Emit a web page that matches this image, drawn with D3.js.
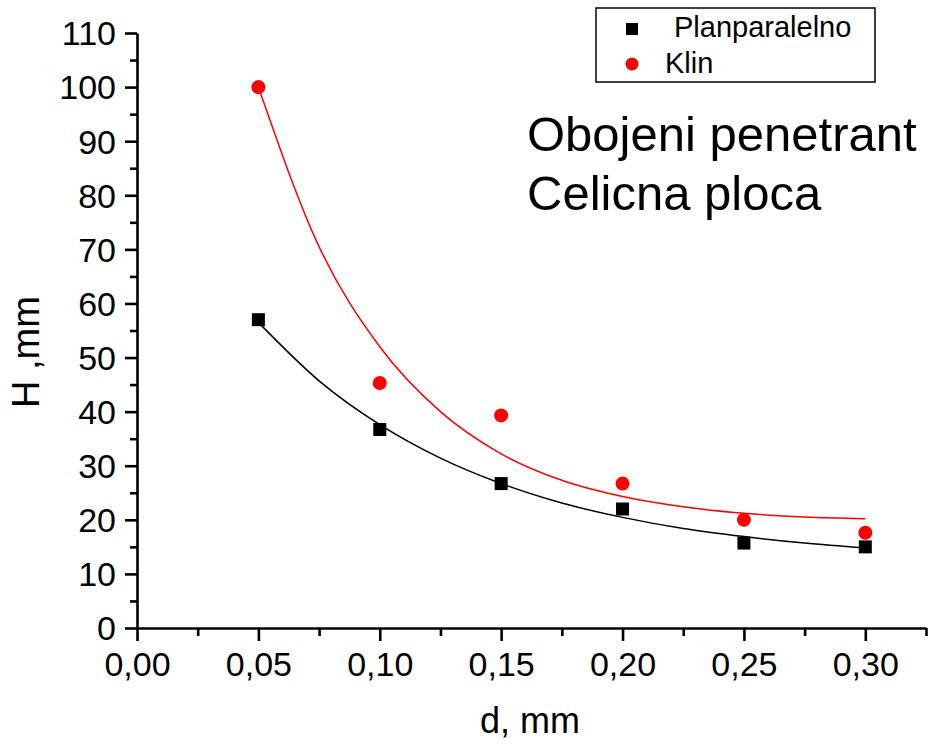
<!DOCTYPE html>
<html>
<head>
<meta charset="utf-8">
<script src="https://cdn.jsdelivr.net/npm/d3@7"></script>
<style>
  html, body { margin: 0; padding: 0; background: #fff; }
  svg { display: block; font-family: "Liberation Sans", Arial, sans-serif; }
</style>
</head>
<body>
<svg id="chart" width="928" height="744"></svg>
<script>
// ---- data ----
const dValues = [0.05, 0.10, 0.15, 0.20, 0.25, 0.30];
const planparalelno = [57, 36.7, 26.7, 22, 15.7, 15];
const klin = [100, 45.3, 39.3, 26.7, 20, 17.6];

// fitted curves
const fitD = [0.05, 0.075, 0.10, 0.125, 0.15, 0.175, 0.20, 0.225, 0.25, 0.275, 0.30];
const fitPlan = [56.5, 45.7, 37.6, 31.4, 26.7, 23.1, 20.45, 18.4, 16.9, 15.7, 14.8];
const fitKlin = [100, 70.5, 52.0, 40.0, 32.2, 27.3, 24.3, 22.4, 21.2, 20.5, 20.2];

const xTicks = [0, 0.05, 0.10, 0.15, 0.20, 0.25, 0.30];
const xMinorTicks = [0.025, 0.075, 0.125, 0.175, 0.225, 0.275, 0.325];
const yTicks = [0, 10, 20, 30, 40, 50, 60, 70, 80, 90, 100, 110];
const yMinorTicks = [5, 15, 25, 35, 45, 55, 65, 75, 85, 95, 105];

const seriesNames = ["Planparalelno", "Klin"];
const titleLines = ["Obojeni penetrant", "Celicna ploca"];
const xLabel = "d, mm";
const yLabel = "H ,mm";

// ---- layout ----
const svg = d3.select("#chart");
const x = d3.scaleLinear().domain([0, 0.325]).range([137, 926]);
const y = d3.scaleLinear().domain([0, 110]).range([628, 33]);
const fmt = v => d3.format(".2f")(v).replace(".", ",");

// axes
const xAxis = svg.append("g").attr("transform", `translate(0,${y(0)})`);
xAxis.call(d3.axisBottom(x).tickValues(xTicks).tickFormat(fmt).tickSize(13).tickSizeOuter(0));
xAxis.append("g").call(d3.axisBottom(x).tickValues(xMinorTicks).tickFormat("").tickSize(8).tickSizeOuter(0))
  .select(".domain").remove();

const yAxis = svg.append("g").attr("transform", `translate(${x(0)},0)`);
yAxis.call(d3.axisLeft(y).tickValues(yTicks).tickSize(12).tickSizeOuter(0));
yAxis.append("g").call(d3.axisLeft(y).tickValues(yMinorTicks).tickFormat("").tickSize(7).tickSizeOuter(0))
  .select(".domain").remove();

svg.selectAll(".domain").attr("stroke", "#000").attr("stroke-width", 2.6);
svg.selectAll(".tick line").attr("stroke", "#000").attr("stroke-width", 2.6);
svg.selectAll("g").attr("font-size", null).attr("font-family", null);
svg.selectAll(".tick text")
  .attr("fill", "#000")
  .style("font-family", "'Liberation Sans', Arial, sans-serif")
  .style("font-size", "34px");
xAxis.selectAll(":scope > .tick text").attr("dy", null).attr("y", 48);
yAxis.selectAll(":scope > .tick text").attr("x", -21).attr("dy", "0.35em");

// axis labels
svg.append("text").attr("x", 530).attr("y", 733).attr("text-anchor", "middle")
  .style("font-size", "36px").text(xLabel);
svg.append("text").attr("transform", "translate(39,352) rotate(-90)").attr("text-anchor", "middle")
  .style("font-size", "38px").text(yLabel);

// fitted curves
const line = d3.line().x(d => x(d[0])).y(d => y(d[1])).curve(d3.curveMonotoneX);
svg.append("path").datum(fitD.map((d, i) => [d, fitPlan[i]]))
  .attr("d", line).attr("fill", "none").attr("stroke", "#000").attr("stroke-width", 1.5);
svg.append("path").datum(fitD.map((d, i) => [d, fitKlin[i]]))
  .attr("d", line).attr("fill", "none").attr("stroke", "#ff0000").attr("stroke-width", 1.5);

// markers
const sq = 13;
svg.append("g").selectAll("rect").data(dValues.map((d, i) => [d, planparalelno[i]])).join("rect")
  .attr("x", d => x(d[0]) - sq / 2).attr("y", d => y(d[1]) - sq / 2)
  .attr("width", sq).attr("height", sq).attr("fill", "#000");
svg.append("g").selectAll("circle").data(dValues.map((d, i) => [d, klin[i]])).join("circle")
  .attr("cx", d => x(d[0])).attr("cy", d => y(d[1])).attr("r", 7).attr("fill", "#ff0000");

// title
svg.append("text").attr("x", 527).attr("y", 151).style("font-size", "49px").text(titleLines[0]);
svg.append("text").attr("x", 527).attr("y", 210).style("font-size", "49px").text(titleLines[1]);

// legend
const lg = svg.append("g");
lg.append("rect").attr("x", 596).attr("y", 8).attr("width", 279).attr("height", 74)
  .attr("fill", "#fff").attr("stroke", "#000").attr("stroke-width", 1.5);
lg.append("rect").attr("x", 632 - 6).attr("y", 29 - 6).attr("width", 12).attr("height", 12).attr("fill", "#000");
lg.append("circle").attr("cx", 632).attr("cy", 64).attr("r", 6.5).attr("fill", "#ff0000");
lg.append("text").attr("x", 674).attr("y", 37).style("font-size", "29px").text(seriesNames[0]);
lg.append("text").attr("x", 665).attr("y", 73).style("font-size", "29px").text(seriesNames[1]);
</script>
</body>
</html>
